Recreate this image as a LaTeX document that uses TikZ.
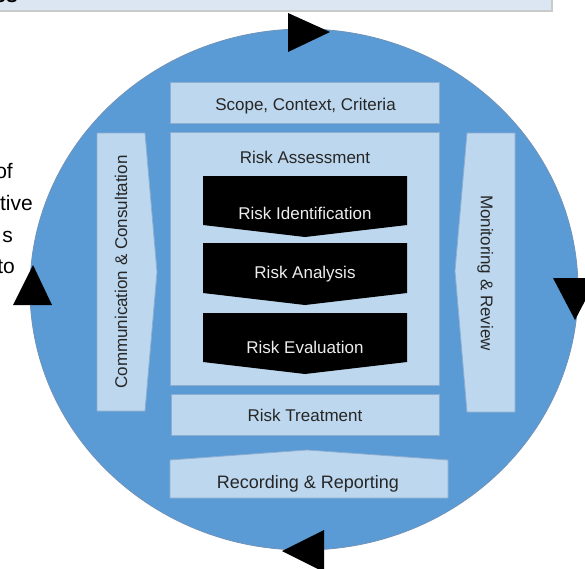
\documentclass[tikz,border=0pt]{standalone}
\usepackage{fontspec}
\setmainfont{Liberation Sans}
\definecolor{circfill}{HTML}{5B9BD5}
\definecolor{circedge}{HTML}{6F92B8}
\definecolor{boxfill}{HTML}{BDD7EE}
\definecolor{boxedge}{HTML}{8EAED0}
\definecolor{stripfill}{HTML}{DCE6F2}
\definecolor{stripedge}{HTML}{CACACA}
\definecolor{txtdark}{HTML}{262626}
\definecolor{txtlight}{HTML}{EDEDED}
\begin{document}
\begin{tikzpicture}[x=1pt,y=-1pt,
  box/.style={fill=boxfill,draw=boxedge,line width=0.8pt},
  chevron/.style={fill=black,draw=none},
  tri/.style={fill=black,draw=none},
  lbl/.style={inner sep=0pt,text height=12.2pt,text depth=0pt,
    font=\fontsize{17}{20}\selectfont,text=txtdark},
  chevlbl/.style={lbl,text=txtlight},
  side/.style={inner sep=0pt,anchor=base east,text=black,
    font=\fontsize{21}{25}\selectfont}]
\useasboundingbox (0,0) rectangle (585,568);
\clip (0,0) rectangle (585,568);
% top strip
\draw[fill=stripfill,draw=stripedge,line width=1.5pt] (-5,-5) rectangle (552,11);
\node[side,font=\bfseries\fontsize{21}{25}\selectfont] (es) at (18,2.5) {es};
% left cut-off text
\node[side] (t1) at (13,178) {of};
\node[side] (t2) at (33,210) {tive};
\node[side] (t3) at (13,242) {s};
\node[side] (t4) at (15,273) {to};
% circle
\draw[fill=circfill,draw=circedge,line width=0.8pt] (304,289.5) ellipse [x radius=274pt,y radius=260.5pt];
% cycle arrowheads
\path[tri] (288,13) -- (288,52) -- (330,32) -- cycle;
\path[tri] (33,265) -- (13,305) -- (52,305) -- cycle;
\path[tri] (553,278) -- (597,278) -- (575,320) -- cycle;
\path[tri] (282,551) -- (324,530) -- (324,572) -- cycle;
% boxes
\draw[box] (170,82) rectangle (439,123);
\draw[box] (170,132) rectangle (439,385);
\path[chevron] (203,176) -- (407,176) -- (407,225) -- (305,237) -- (203,225) -- cycle;
\path[chevron] (203,243) -- (407,243) -- (407,293) -- (305,305) -- (203,293) -- cycle;
\path[chevron] (203,313) -- (407,313) -- (407,362) -- (305,374) -- (203,362) -- cycle;
\draw[box] (97,133) -- (145,133) -- (157,272) -- (145,411) -- (97,411) -- cycle;
\draw[box] (515,133) -- (467,133) -- (455,271) -- (467,412) -- (515,412) -- cycle;
\draw[box] (171,394) rectangle (439,435);
\draw[box] (170,460) -- (307,450) -- (448,460) -- (448,498) -- (170,498) -- cycle;
% labels
\node[lbl] (scope) at (305.5,104) {Scope, Context, Criteria};
\node[lbl] (ra) at (305,157) {Risk Assessment};
\node[chevlbl] (rid) at (305,213) {Risk Identification};
\node[chevlbl] (ran) at (305,272) {Risk Analysis};
\node[chevlbl] (rev) at (305,347) {Risk Evaluation};
\node[lbl] (rt) at (305,415) {Risk Treatment};
\node[lbl,text height=12.9pt,font=\fontsize{18}{21}\selectfont] (rr) at (308,482) {Recording \& Reporting};
\node[lbl,rotate=90] (cc) at (121,272) {Communication \& Consultation};
\node[lbl,rotate=-90] (mr) at (487,273) {Monitoring \& Review};
\end{tikzpicture}
\end{document}
